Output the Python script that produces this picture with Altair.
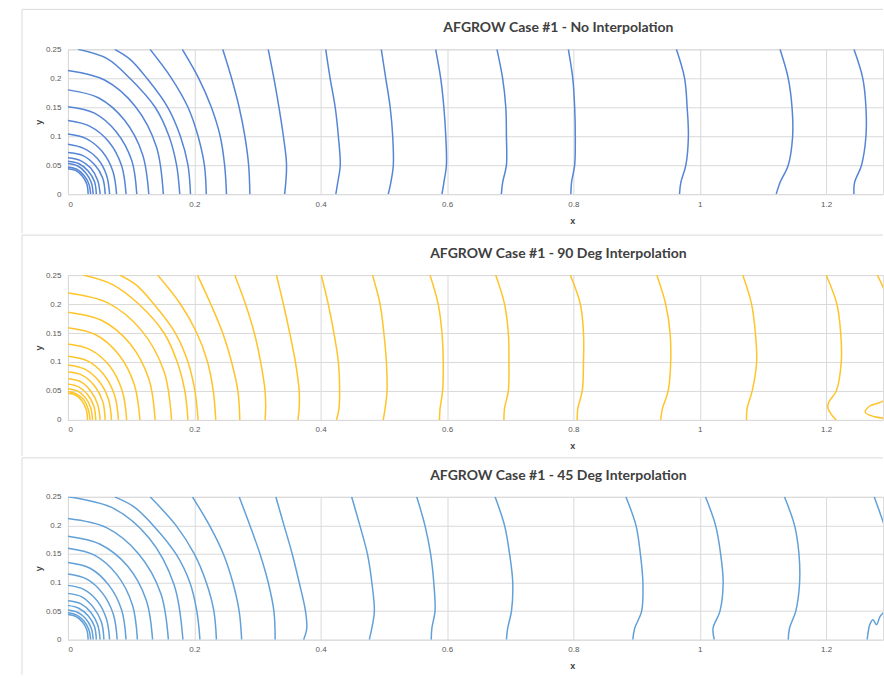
import altair as alt
import pandas as pd

# ---------------- data ----------------
x_ticks = [0, 0.2, 0.4, 0.6, 0.8, 1, 1.2]
y_ticks = [0, 0.05, 0.1, 0.15, 0.2, 0.25]
titles = [
    "AFGROW Case #1 - No Interpolation",
    "AFGROW Case #1 - 90 Deg Interpolation",
    "AFGROW Case #1 - 45 Deg Interpolation",
]
colors = ["#5585d6", "#ffc42a", "#62a0d8"]

# crack fronts, each a list of (x, y) points along the front
no_interp = [
    [(0.032, 0), (0.030, 0.017), (0.023, 0.031), (0.012, 0.041), (0, 0.044)],
    [(0.036, 0), (0.033, 0.018), (0.025, 0.033), (0.014, 0.043), (0, 0.047)],
    [(0.040, 0), (0.037, 0.020), (0.028, 0.037), (0.015, 0.049), (0, 0.053)],
    [(0.045, 0), (0.042, 0.022), (0.032, 0.040), (0.017, 0.053), (0, 0.057)],
    [(0.051, 0), (0.047, 0.024), (0.036, 0.045), (0.020, 0.058), (0, 0.063)],
    [(0.059, 0), (0.055, 0.028), (0.042, 0.051), (0.023, 0.067), (0, 0.072)],
    [(0.066, 0), (0.061, 0.033), (0.047, 0.061), (0.025, 0.079), (0, 0.086)],
    [(0.077, 0), (0.071, 0.040), (0.054, 0.074), (0.029, 0.096), (0, 0.104)],
    [(0.092, 0), (0.085, 0.049), (0.065, 0.090), (0.035, 0.117), (0, 0.127)],
    [(0.109, 0), (0.101, 0.058), (0.077, 0.107), (0.042, 0.140), (0, 0.151)],
    [(0.128, 0), (0.118, 0.069), (0.090, 0.127), (0.049, 0.166), (0, 0.180)],
    [(0.151, 0), (0.140, 0.082), (0.107, 0.151), (0.058, 0.197), (0, 0.2135)],
    [(0.016, 0.25), (0.062, 0.234), (0.098, 0.2), (0.138, 0.15), (0.160, 0.1), (0.172, 0.05), (0.177, 0)],
    [(0.074, 0.25), (0.098, 0.233), (0.125, 0.2), (0.158, 0.15), (0.178, 0.1), (0.190, 0.05), (0.194, 0)],
    [(0.130, 0.25), (0.164, 0.2), (0.190, 0.15), (0.206, 0.1), (0.216, 0.05), (0.219, 0)],
    [(0.181, 0.25), (0.207, 0.2), (0.227, 0.15), (0.241, 0.1), (0.248, 0.05), (0.251, 0)],
    [(0.245, 0.25), (0.259, 0.2), (0.271, 0.15), (0.280, 0.1), (0.286, 0.05), (0.288, 0)],
    [(0.317, 0.25), (0.326, 0.2), (0.334, 0.15), (0.341, 0.1), (0.346, 0.05), (0.343, 0)],
    [(0.408, 0.25), (0.415, 0.2), (0.423, 0.15), (0.428, 0.1), (0.431, 0.05), (0.427, 0.02), (0.424, 0)],
    [(0.496, 0.25), (0.503, 0.2), (0.510, 0.15), (0.514, 0.1), (0.515, 0.05), (0.511, 0.02), (0.507, 0)],
    [(0.582, 0.25), (0.590, 0.2), (0.595, 0.15), (0.598, 0.1), (0.599, 0.05), (0.595, 0.02), (0.592, 0)],
    [(0.679, 0.25), (0.688, 0.2), (0.693, 0.15), (0.694, 0.1), (0.694, 0.05), (0.688, 0.02), (0.686, 0)],
    [(0.792, 0.25), (0.799, 0.2), (0.802, 0.15), (0.803, 0.1), (0.802, 0.05), (0.797, 0.02), (0.796, 0)],
    [(0.963, 0.25), (0.976, 0.2), (0.980, 0.15), (0.982, 0.1), (0.978, 0.05), (0.970, 0.02), (0.968, 0)],
    [(1.127, 0.25), (1.140, 0.2), (1.146, 0.15), (1.147, 0.1), (1.140, 0.05), (1.127, 0.02), (1.121, 0)],
    [(1.244, 0.25), (1.258, 0.2), (1.263, 0.15), (1.263, 0.1), (1.256, 0.05), (1.245, 0.02), (1.244, 0)],
]

deg90 = [
    [(0.031, 0), (0.029, 0.018), (0.022, 0.033), (0.012, 0.043), (0, 0.046)],
    [(0.035, 0), (0.032, 0.019), (0.025, 0.035), (0.013, 0.045), (0, 0.049)],
    [(0.039, 0), (0.036, 0.021), (0.028, 0.038), (0.015, 0.050), (0, 0.054)],
    [(0.044, 0), (0.041, 0.024), (0.031, 0.044), (0.017, 0.057), (0, 0.062)],
    [(0.051, 0), (0.047, 0.027), (0.036, 0.050), (0.020, 0.066), (0, 0.071)],
    [(0.059, 0), (0.055, 0.032), (0.042, 0.059), (0.023, 0.077), (0, 0.083)],
    [(0.069, 0), (0.064, 0.036), (0.049, 0.067), (0.026, 0.088), (0, 0.095)],
    [(0.080, 0), (0.074, 0.042), (0.057, 0.078), (0.031, 0.102), (0, 0.110)],
    [(0.093, 0), (0.086, 0.050), (0.066, 0.093), (0.036, 0.121), (0, 0.131)],
    [(0.114, 0), (0.105, 0.061), (0.081, 0.112), (0.044, 0.147), (0, 0.159)],
    [(0.138, 0), (0.128, 0.071), (0.098, 0.132), (0.053, 0.172), (0, 0.186)],
    [(0.164, 0), (0.152, 0.084), (0.116, 0.155), (0.063, 0.202), (0, 0.219)],
    [(0.024, 0.25), (0.070, 0.234), (0.112, 0.2), (0.152, 0.15), (0.173, 0.1), (0.185, 0.05), (0.190, 0)],
    [(0.082, 0.25), (0.108, 0.233), (0.136, 0.2), (0.170, 0.15), (0.190, 0.1), (0.201, 0.05), (0.206, 0)],
    [(0.142, 0.25), (0.178, 0.2), (0.204, 0.15), (0.221, 0.1), (0.230, 0.05), (0.234, 0)],
    [(0.205, 0.25), (0.226, 0.2), (0.245, 0.15), (0.259, 0.1), (0.269, 0.05), (0.272, 0)],
    [(0.264, 0.25), (0.281, 0.2), (0.295, 0.15), (0.305, 0.1), (0.312, 0.05), (0.313, 0.02), (0.312, 0)],
    [(0.330, 0.25), (0.341, 0.2), (0.351, 0.15), (0.360, 0.1), (0.366, 0.05), (0.366, 0.02), (0.364, 0)],
    [(0.401, 0.25), (0.412, 0.2), (0.421, 0.15), (0.428, 0.1), (0.430, 0.05), (0.429, 0.02), (0.425, 0)],
    [(0.482, 0.25), (0.494, 0.2), (0.500, 0.15), (0.504, 0.1), (0.505, 0.05), (0.502, 0.02), (0.499, 0)],
    [(0.573, 0.25), (0.586, 0.2), (0.592, 0.15), (0.594, 0.1), (0.593, 0.05), (0.589, 0.02), (0.588, 0)],
    [(0.677, 0.25), (0.691, 0.2), (0.697, 0.15), (0.698, 0.1), (0.697, 0.05), (0.691, 0.02), (0.690, 0)],
    [(0.795, 0.25), (0.811, 0.2), (0.816, 0.15), (0.816, 0.1), (0.814, 0.05), (0.807, 0.02), (0.806, 0)],
    [(0.932, 0.25), (0.946, 0.2), (0.953, 0.15), (0.954, 0.1), (0.950, 0.05), (0.941, 0.02), (0.938, 0)],
    [(1.068, 0.25), (1.082, 0.2), (1.088, 0.15), (1.090, 0.1), (1.083, 0.05), (1.075, 0.02), (1.074, 0)],
    [(1.200, 0.25), (1.217, 0.2), (1.223, 0.15), (1.224, 0.1), (1.216, 0.05), (1.204, 0.03),
     (1.203, 0.02), (1.208, 0.01), (1.216, 0)],
    [(1.281, 0.25), (1.293, 0.22), (1.305, 0.15), (1.310, 0.08), (1.300, 0.04), (1.285, 0.03),
     (1.269, 0.024), (1.262, 0.013), (1.275, 0.006), (1.300, 0.002)],
]

deg45 = [
    [(0.032, 0), (0.030, 0.017), (0.023, 0.031), (0.012, 0.041), (0, 0.044)],
    [(0.036, 0), (0.033, 0.018), (0.025, 0.033), (0.014, 0.043), (0, 0.047)],
    [(0.040, 0), (0.037, 0.020), (0.028, 0.037), (0.015, 0.048), (0, 0.052)],
    [(0.045, 0), (0.042, 0.023), (0.032, 0.042), (0.017, 0.055), (0, 0.060)],
    [(0.051, 0), (0.047, 0.026), (0.036, 0.048), (0.020, 0.063), (0, 0.068)],
    [(0.057, 0), (0.053, 0.031), (0.040, 0.057), (0.022, 0.075), (0, 0.081)],
    [(0.066, 0), (0.061, 0.036), (0.047, 0.067), (0.025, 0.088), (0, 0.095)],
    [(0.078, 0), (0.072, 0.044), (0.055, 0.081), (0.030, 0.106), (0, 0.115)],
    [(0.092, 0), (0.085, 0.052), (0.065, 0.095), (0.035, 0.125), (0, 0.135)],
    [(0.110, 0), (0.102, 0.061), (0.078, 0.113), (0.042, 0.148), (0, 0.160)],
    [(0.134, 0), (0.124, 0.069), (0.095, 0.128), (0.051, 0.167), (0, 0.181)],
    [(0.159, 0), (0.147, 0.081), (0.112, 0.150), (0.061, 0.196), (0, 0.212)],
    [(0.182, 0), (0.168, 0.096), (0.129, 0.177), (0.070, 0.231), (0, 0.250)],
    [(0.074, 0.25), (0.104, 0.233), (0.135, 0.2), (0.171, 0.15), (0.193, 0.1), (0.204, 0.05), (0.209, 0)],
    [(0.130, 0.25), (0.171, 0.2), (0.200, 0.15), (0.219, 0.1), (0.231, 0.05), (0.235, 0)],
    [(0.197, 0.25), (0.224, 0.2), (0.246, 0.15), (0.261, 0.1), (0.271, 0.05), (0.275, 0)],
    [(0.271, 0.25), (0.288, 0.2), (0.304, 0.15), (0.317, 0.1), (0.326, 0.05), (0.328, 0)],
    [(0.329, 0.25), (0.342, 0.2), (0.355, 0.15), (0.366, 0.1), (0.376, 0.05), (0.378, 0.02), (0.373, 0)],
    [(0.449, 0.25), (0.462, 0.2), (0.474, 0.15), (0.481, 0.1), (0.485, 0.05), (0.481, 0.02), (0.477, 0)],
    [(0.552, 0.25), (0.565, 0.2), (0.574, 0.15), (0.579, 0.1), (0.581, 0.05), (0.576, 0.02), (0.575, 0)],
    [(0.676, 0.25), (0.691, 0.2), (0.699, 0.15), (0.704, 0.1), (0.702, 0.05), (0.696, 0.02), (0.694, 0)],
    [(0.883, 0.25), (0.899, 0.2), (0.906, 0.15), (0.910, 0.1), (0.908, 0.05), (0.897, 0.02), (0.894, 0)],
    [(1.009, 0.25), (1.025, 0.2), (1.033, 0.15), (1.037, 0.1), (1.032, 0.05), (1.021, 0.02), (1.023, 0)],
    [(1.134, 0.25), (1.150, 0.2), (1.157, 0.15), (1.158, 0.1), (1.152, 0.05), (1.142, 0.02), (1.140, 0)],
    [(1.276, 0.25), (1.292, 0.2), (1.305, 0.15), (1.310, 0.1), (1.300, 0.06), (1.285, 0.04),
     (1.280, 0.026), (1.274, 0.035), (1.269, 0.026), (1.265, 0)],
]


def to_frame(curves):
    rows = []
    for ci, pts in enumerate(curves):
        for k, (x, y) in enumerate(pts):
            rows.append({"curve": ci, "ord": k, "x": x, "y": y})
    return pd.DataFrame(rows)


W = 816
FRAME = "#d9d9d9"
GRID = "#d9d9d9"
LABEL = "#595959"


def panel(curves, title, color, h, top_rel, left_bottom):
    df = to_frame(curves)
    lines = alt.Chart(df).mark_line(
        color=color, strokeWidth=1.5, interpolate="catmull-rom", clip=True
    ).encode(
        x=alt.X(
            "x:Q",
            scale=alt.Scale(domain=[0, 1.29], nice=False, zero=False),
            axis=alt.Axis(
                values=x_ticks, format="~g", title="x", grid=True, gridColor=GRID,
                domain=False, ticks=False, tickSize=0, labelPadding=6,
                labelFont="Liberation Sans", labelFontSize=8, labelColor=LABEL,
                titleFont="Liberation Sans", titleFontSize=9, titleFontWeight="bold",
                titleColor="#404040", titleX=505, titleY=26, titleBaseline="middle",
            ),
        ),
        y=alt.Y(
            "y:Q",
            scale=alt.Scale(domain=[0, 0.25], nice=False, zero=False),
            axis=alt.Axis(
                values=y_ticks, format="~g", title="y", grid=True, gridColor=GRID,
                domain=False, ticks=False, tickSize=0, labelPadding=7,
                labelFont="Liberation Sans", labelFontSize=8, labelColor=LABEL,
                titleFont="Liberation Sans", titleFontSize=9, titleFontWeight="bold",
                titleColor="#404040", titleX=-29, titleY=h / 2, titleBaseline="middle",
            ),
        ),
        detail="curve:N",
        order="ord:Q",
    )
    one = pd.DataFrame({"t": [title]})
    hline = alt.Chart(one).mark_rule(color=FRAME, strokeWidth=1).encode(
        x=alt.value(-46), x2=alt.value(W), y=alt.value(top_rel)
    )
    vline = alt.Chart(one).mark_rule(color=FRAME, strokeWidth=1).encode(
        x=alt.value(-46), y=alt.value(top_rel), y2=alt.value(left_bottom)
    )
    ttl = alt.Chart(one).mark_text(
        font="Lato", fontSize=14, fontWeight="bold", color="#404040",
        align="center", baseline="middle",
    ).encode(text="t:N", x=alt.value(491), y=alt.value(-21))
    return alt.layer(hline, vline, lines, ttl).properties(width=W, height=h)


p1 = panel(no_interp, titles[0], colors[0], 145, -40, 184)
p2 = panel(deg90, titles[1], colors[1], 145, -40, 181)
p3 = panel(deg45, titles[2], colors[2], 143, -39, 178)

chart = alt.vconcat(p1, p2, p3, spacing=0).properties(
    padding={"left": 21, "top": 8, "right": 0, "bottom": 0}
).configure_view(stroke=None).configure(background="white")

chart.save("out.html", embed_options={"renderer": "svg", "actions": False})
